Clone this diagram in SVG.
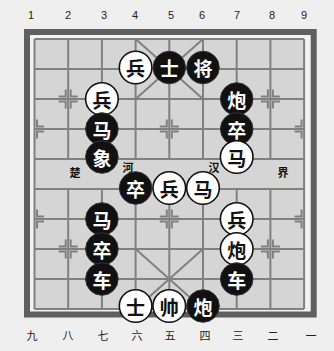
<svg xmlns="http://www.w3.org/2000/svg" xmlns:xlink="http://www.w3.org/1999/xlink" width="334" height="351" viewBox="0 0 334 351">
<style>
.grid{stroke:#808080;stroke-width:2;fill:none}
.mk{stroke:#808080;stroke-width:2;fill:none}
.num{font-family:"Liberation Sans",Arial,sans-serif;font-size:11px;fill:#222;text-anchor:middle}
.cn{font-family:"Noto Sans CJK SC","Liberation Sans",sans-serif;font-size:11px;fill:#222;text-anchor:middle}
.river{font-family:"Noto Sans CJK SC","Liberation Sans",sans-serif;font-size:11px;font-weight:bold;fill:#111;text-anchor:middle}
.pw circle{fill:#fff;stroke:#111;stroke-width:1.6}
.pb circle{fill:#111;stroke:#333;stroke-width:1}
.pw text,.pb text{font-family:"Noto Sans CJK SC","Liberation Sans",sans-serif;font-size:19px;font-weight:bold;text-anchor:middle;dominant-baseline:central}
.pw text{fill:#111}
.pb text{fill:#fff}
</style>
<defs>
<g id="mr" class="mk"><path d="M2.5,9.5V2.5H9.5M2.5,-9.5V-2.5H9.5"/></g>
<g id="ml" class="mk"><path d="M-2.5,9.5V2.5H-9.5M-2.5,-9.5V-2.5H-9.5"/></g>
<g id="mf"><use xlink:href="#mr"/><use xlink:href="#ml"/></g>
</defs>
<rect x="0" y="0" width="334" height="351" fill="#efefef"/>
<g id="labels">
<text class="num" x="31" y="19">1</text>
<text class="num" x="68" y="19">2</text>
<text class="num" x="104" y="19">3</text>
<text class="num" x="135" y="19">4</text>
<text class="num" x="171" y="19">5</text>
<text class="num" x="202" y="19">6</text>
<text class="num" x="237" y="19">7</text>
<text class="num" x="272" y="19">8</text>
<text class="num" x="304" y="19">9</text>
<text class="cn" x="32" y="340">九</text>
<text class="cn" x="68" y="340">八</text>
<text class="cn" x="103" y="340">七</text>
<text class="cn" x="137" y="340">六</text>
<text class="cn" x="170" y="340">五</text>
<text class="cn" x="205" y="340">四</text>
<text class="cn" x="238" y="340">三</text>
<text class="cn" x="273" y="340">二</text>
<text class="cn" x="311" y="340">一</text>
</g>
<g id="board">
<rect x="27" y="32" width="286.7" height="282.5" fill="#f2f2f2" stroke="#5f5f5f" stroke-width="6"/>
<rect x="34.5" y="39" width="269.6" height="270" fill="#d5d5d5"/>
</g>
<g id="connectors">
<path class="grid" d="M34.5,39H304.1M34.5,69H304.1M34.5,99H304.1M34.5,129H304.1M34.5,159H304.1M34.5,189H304.1M34.5,219H304.1M34.5,249H304.1M34.5,279H304.1M34.5,309H304.1"/>
<path class="grid" d="M34.5,39V309M304.1,39V309M68.2,39V159M101.9,39V159M135.6,39V159M169.3,39V159M203,39V159M236.7,39V159M270.4,39V159M68.2,189V309M101.9,189V309M135.6,189V309M169.3,189V309M203,189V309M236.7,189V309M270.4,189V309"/>
<path class="grid" d="M135.6,39L203,99M203,39L135.6,99M135.6,249L203,309M203,249L135.6,309"/>
<use xlink:href="#mf" x="68.2" y="99"/>
<use xlink:href="#mf" x="270.4" y="99"/>
<use xlink:href="#mr" x="34.5" y="129"/>
<use xlink:href="#mf" x="169.3" y="129"/>
<use xlink:href="#ml" x="304.1" y="129"/>
<use xlink:href="#mr" x="34.5" y="219"/>
<use xlink:href="#mf" x="169.3" y="219"/>
<use xlink:href="#ml" x="304.1" y="219"/>
<use xlink:href="#mf" x="68.2" y="249"/>
<use xlink:href="#mf" x="270.4" y="249"/>
</g>
<g id="river">
<text class="river" x="75" y="177">楚</text>
<text class="river" x="128" y="172">河</text>
<text class="river" x="214" y="172">汉</text>
<text class="river" x="283" y="177">界</text>
</g>
<g id="p-r1-bing" class="pw"><circle cx="135.6" cy="67.5" r="16.3"/><text x="135.6" y="67.5">兵</text></g>
<g id="p-r1-shi" class="pb"><circle cx="169.3" cy="67.5" r="16.3"/><text x="169.3" y="67.5">士</text></g>
<g id="p-r1-jiang" class="pb"><circle cx="203" cy="67.5" r="16.3"/><text x="203" y="67.5">将</text></g>
<g id="p-r2-bing" class="pw"><circle cx="101.9" cy="99" r="16.3"/><text x="101.9" y="99">兵</text></g>
<g id="p-r2-pao" class="pb"><circle cx="236.7" cy="99" r="16.3"/><text x="236.7" y="99">炮</text></g>
<g id="p-r3-ma" class="pb"><circle cx="101.9" cy="129" r="16.3"/><text x="101.9" y="129">马</text></g>
<g id="p-r3-zu" class="pb"><circle cx="236.7" cy="129" r="16.3"/><text x="236.7" y="129">卒</text></g>
<g id="p-r4-xiang" class="pb"><circle cx="101.9" cy="157" r="16.3"/><text x="101.9" y="157">象</text></g>
<g id="p-r4-ma" class="pw"><circle cx="236.7" cy="157" r="16.3"/><text x="236.7" y="157">马</text></g>
<g id="p-r5-zu" class="pb"><circle cx="135.6" cy="188" r="16.3"/><text x="135.6" y="188">卒</text></g>
<g id="p-r5-bing" class="pw"><circle cx="169.3" cy="188" r="16.3"/><text x="169.3" y="188">兵</text></g>
<g id="p-r5-ma" class="pw"><circle cx="203" cy="188" r="16.3"/><text x="203" y="188">马</text></g>
<g id="p-r6-ma" class="pb"><circle cx="101.9" cy="219" r="16.3"/><text x="101.9" y="219">马</text></g>
<g id="p-r6-bing" class="pw"><circle cx="236.7" cy="219" r="16.3"/><text x="236.7" y="219">兵</text></g>
<g id="p-r7-zu" class="pb"><circle cx="101.9" cy="249" r="16.3"/><text x="101.9" y="249">卒</text></g>
<g id="p-r7-pao" class="pw"><circle cx="236.7" cy="249" r="16.3"/><text x="236.7" y="249">炮</text></g>
<g id="p-r8-ju1" class="pb"><circle cx="101.9" cy="279" r="16.3"/><text x="101.9" y="279">车</text></g>
<g id="p-r8-ju2" class="pb"><circle cx="236.7" cy="279" r="16.3"/><text x="236.7" y="279">车</text></g>
<g id="p-r9-shi" class="pw"><circle cx="135.6" cy="306" r="16.3"/><text x="135.6" y="306">士</text></g>
<g id="p-r9-shuai" class="pw"><circle cx="169.3" cy="306" r="16.3"/><text x="169.3" y="306">帅</text></g>
<g id="p-r9-pao" class="pb"><circle cx="203" cy="306" r="16.3"/><text x="203" y="306">炮</text></g>
</svg>
